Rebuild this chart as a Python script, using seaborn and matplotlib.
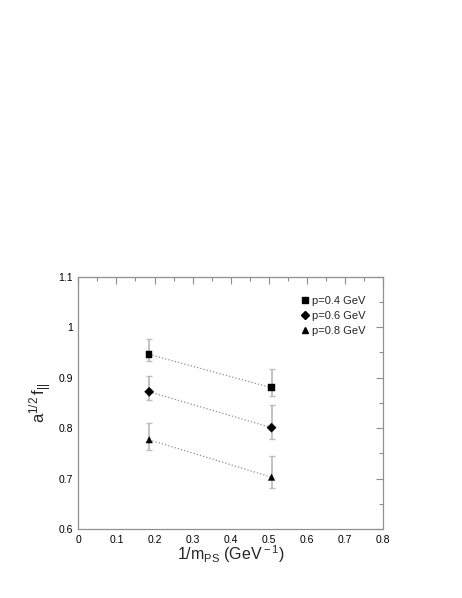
import numpy as np
import pandas as pd
import matplotlib
matplotlib.use("Agg")
import matplotlib.pyplot as plt
from matplotlib.ticker import MultipleLocator
import seaborn as sns

sns.set_theme(style="white")
plt.rcParams["font.family"] = ["Liberation Sans", "DejaVu Sans"]
plt.rcParams["mathtext.fontset"] = "custom"
plt.rcParams["mathtext.rm"] = "Liberation Sans"
plt.rcParams["mathtext.it"] = "Liberation Sans"

# -----------------------------
# Data
# -----------------------------
inv_m = [0.186, 0.507]
labels = ["p=0.4 GeV", "p=0.6 GeV", "p=0.8 GeV"]
markers = ["s", "D", "^"]

f_p04 = [0.946, 0.880]
f_p06 = [0.872, 0.801]
f_p08 = [0.777, 0.703]

err_lo_p04 = [0.013, 0.016]
err_hi_p04 = [0.030, 0.038]
err_lo_p06 = [0.017, 0.023]
err_hi_p06 = [0.032, 0.044]
err_lo_p08 = [0.020, 0.022]
err_hi_p08 = [0.033, 0.041]

series = [f_p04, f_p06, f_p08]
lo = [err_lo_p04, err_lo_p06, err_lo_p08]
hi = [err_hi_p04, err_hi_p06, err_hi_p08]

df = pd.concat(
    [pd.DataFrame({"x": inv_m, "y": s, "p": lab}) for s, lab in zip(series, labels)],
    ignore_index=True,
)

# -----------------------------
# Figure
# -----------------------------
fig = plt.figure(figsize=(4.62, 5.98), dpi=100)
ax = fig.add_axes([0.1695, 0.115, 0.660, 0.4225])

for s, l, h in zip(series, lo, hi):
    ax.errorbar(inv_m, s, yerr=[l, h], fmt="none", ecolor="#bdbdbd",
                elinewidth=1.3, capsize=2.2, capthick=1.0, zorder=1)

sns.lineplot(data=df, x="x", y="y", units="p", estimator=None,
             color="#909090", linestyle=":", linewidth=0.9, ax=ax, zorder=2)

sns.scatterplot(data=df, x="x", y="y", style="p", markers=dict(zip(labels, markers)),
                color="black", s=22, edgecolor="black", linewidth=0.3,
                legend=False, ax=ax, zorder=3)

# legend with small markers, no frame
sizes = {"s": 5, "D": 4, "^": 5}
handles = [plt.Line2D([], [], marker=m, color="black", linestyle="none",
                      markersize=sizes[m]) for m in markers]
ax.legend(handles, labels, loc="upper right", bbox_to_anchor=(0.963, 0.95),
          frameon=False, fontsize=8, handletextpad=0.25, labelspacing=0.45,
          handlelength=0.8, borderaxespad=0.2)

ax.set_xlim(0, 0.8)
ax.set_ylim(0.6, 1.1)
ax.set_xticks(np.arange(0, 0.81, 0.1))
ax.set_xticklabels(["0", "0.1", "0.2", "0.3", "0.4", "0.5", "0.6", "0.7", "0.8"])
ax.set_yticks(np.arange(0.6, 1.11, 0.1))
ax.set_yticklabels(["0.6", "0.7", "0.8", "0.9", "1", "1.1"])
ax.xaxis.set_minor_locator(MultipleLocator(0.05))
ax.yaxis.set_minor_locator(MultipleLocator(0.05))

ax.tick_params(which="both", direction="in", top=True, right=True,
               colors="#909090", labelcolor="black", labelsize=7.5, pad=4)
ax.tick_params(which="major", length=5, width=0.8)
ax.tick_params(which="minor", length=3, width=0.8)
for sp in ax.spines.values():
    sp.set_color("#909090")
    sp.set_linewidth(0.9)

ax.set_xlabel(r"1/m$_{\rm PS}$ (GeV$^{\rm -1}$)", fontsize=11.5, labelpad=-1)
ax.set_ylabel(r"a$^{1/2}$$\,$f$_{||}$", fontsize=12, labelpad=3)

fig.savefig("out.png", dpi=100)
